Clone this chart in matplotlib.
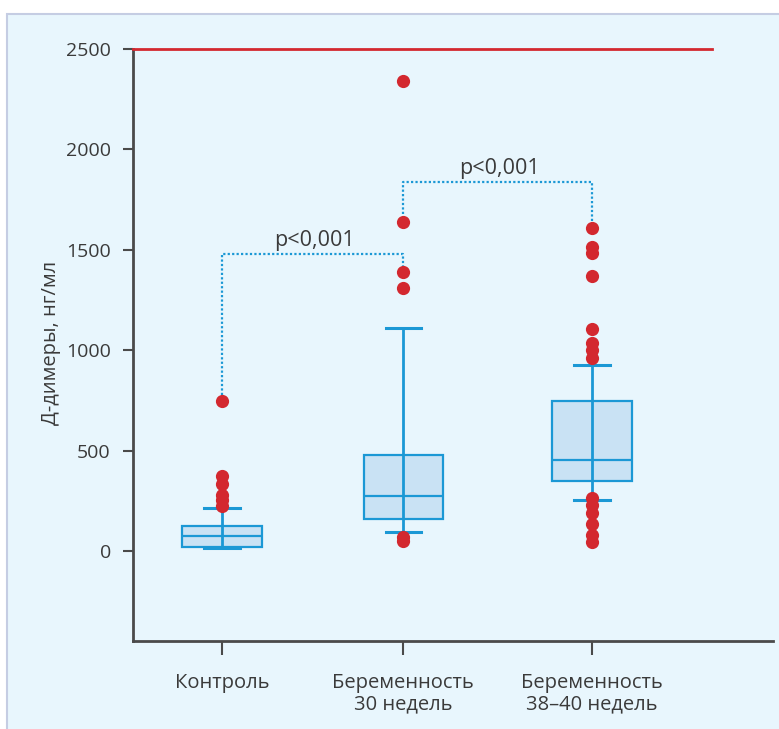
import matplotlib.pyplot as plt
from matplotlib.patches import Rectangle

plt.rcParams["font.family"] = ["Open Sans", "DejaVu Sans"]

groups = ["Контроль", "Беременность\n30 недель", "Беременность\n38–40 недель"]
positions = [1, 1.98, 3]

# box stats
q1 = [20, 160, 349]
med = [75, 274, 453]
q3 = [125, 478, 747]
whislo = [15, 95, 254]
whishi = [214, 1110, 926]

outliers = [
    [747, 373, 334, 279, 254, 224],
    [2340, 1640, 1390, 1310, 70, 50],
    [1608, 1514, 1484, 1370, 1105, 1036, 1001, 961, 264, 229, 189, 134, 80, 45],
]

ref_level = 2500
# significance brackets: (from group, to group, height, left drop, right drop)
brackets = [(0, 1, 1480, 775, 1415), (1, 2, 1838, 1680, 1635)]
p_text = "p<0,001"

box_edge = "#1b98d5"
box_fill = "#c9e2f4"
red = "#d3282f"
txt = "#3a3a3a"

fig = plt.figure(figsize=(7.79, 7.29), dpi=100)
fig.patch.set_facecolor("white")
bg = Rectangle((7 / 779, -0.05), 1.1, 0.05 + 1 - 14 / 729,
               transform=fig.transFigure, facecolor="#e8f6fd",
               edgecolor="#c5cde3", linewidth=1.5, zorder=-10)
fig.add_artist(bg)

ax = fig.add_axes([133 / 779, 88 / 729, 640 / 779, 596 / 729])
ax.set_facecolor("none")

stats = []
for i in range(3):
    stats.append({"q1": q1[i], "med": med[i], "q3": q3[i],
                  "whislo": whislo[i], "whishi": whishi[i], "fliers": []})

ax.bxp(stats, positions=positions, widths=0.43, capwidths=0.19,
       patch_artist=True, showfliers=False,
       boxprops=dict(facecolor=box_fill, edgecolor=box_edge, linewidth=1.6),
       medianprops=dict(color=box_edge, linewidth=1.6),
       whiskerprops=dict(linewidth=0),
       capprops=dict(color=box_edge, linewidth=2.2))
# vertical line runs through the box
ax.vlines(positions, whislo, whishi, color=box_edge, lw=2, zorder=3)

for x, pts in zip(positions, outliers):
    ax.plot([x] * len(pts), pts, "o", color=red, markersize=9.5,
            markeredgewidth=0, zorder=4)

ax.plot([0.519, 3.65], [ref_level, ref_level], color=red, lw=2, clip_on=False, zorder=5)

for a, b, h, la, lb in brackets:
    xa, xb = positions[a], positions[b]
    ax.plot([xa, xa, xb, xb], [la, h, h, lb], color=box_edge, lw=1.6,
            linestyle=(0, (1, 1)), zorder=2)
    ax.text((xa + xb) / 2 + 0.01, h + 15, p_text, ha="center", va="bottom",
            fontsize=15.5, color=txt)

ax.set_xlim(0.519, 3.978)
ax.set_ylim(-448, 2520)
ax.set_xticks(positions)
ax.set_xticklabels(groups, fontsize=14.5, color=txt, linespacing=1.1)
ax.set_yticks([0, 500, 1000, 1500, 2000, 2500])
ax.tick_params(axis="y", labelsize=14, labelcolor=txt, length=7, width=1.5,
               color="#4a4a4a", pad=9)
ax.tick_params(axis="x", length=10, width=1.5, color="#4a4a4a", pad=13)
ax.set_ylabel("Д-димеры, нг/мл", fontsize=14.5, color=txt)

for s in ["top", "right"]:
    ax.spines[s].set_visible(False)
for s in ["left", "bottom"]:
    ax.spines[s].set_color("#4a4a4a")
    ax.spines[s].set_linewidth(2)
ax.spines["left"].set_bounds(-448, 2500)
ax.yaxis.set_label_coords(-0.112, 0.5)

fig.savefig("out.png", dpi=100)
